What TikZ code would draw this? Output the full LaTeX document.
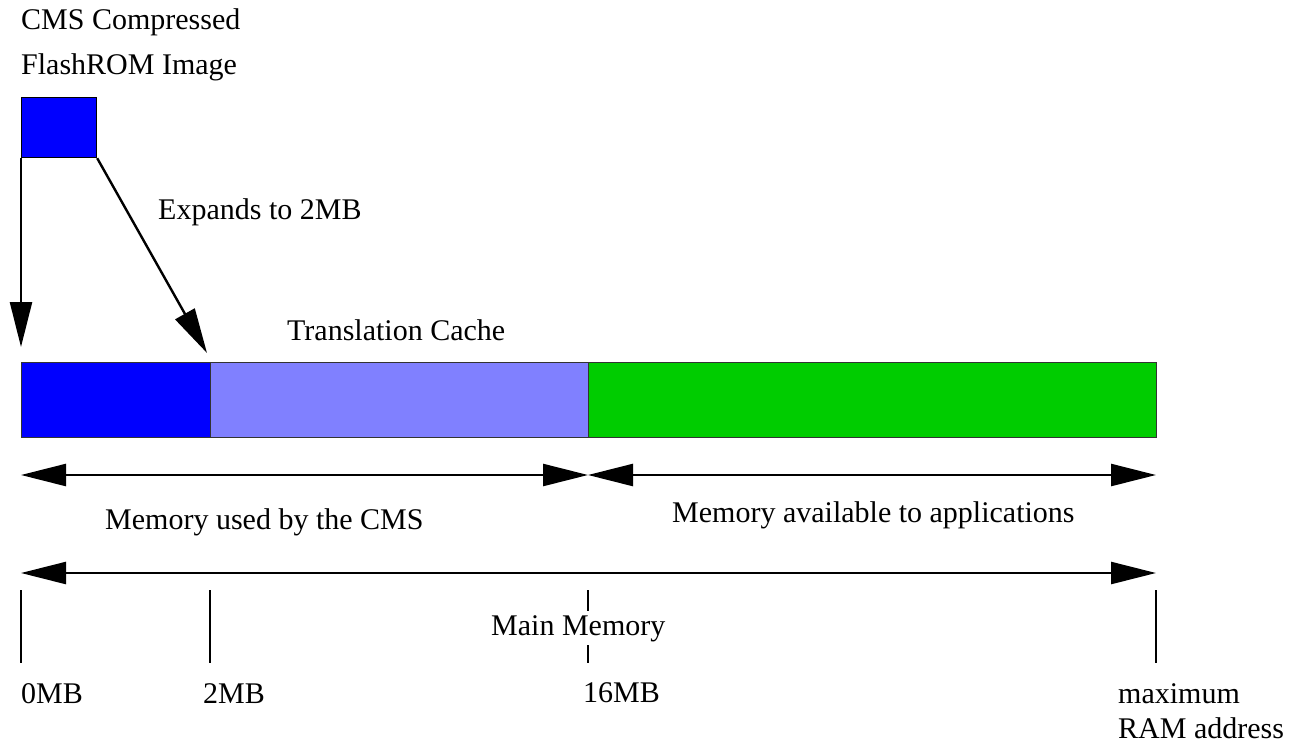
\documentclass[tikz,border=0pt]{standalone}
\usepackage{fontspec}
\setmainfont{Liberation Serif}
\usetikzlibrary{arrows.meta}
\definecolor{romblue}{RGB}{0,0,255}
\definecolor{cacheblue}{RGB}{128,128,255}
\definecolor{appgreen}{RGB}{0,204,0}
\begin{document}
\begin{tikzpicture}[x=1pt,y=-1pt,
  lbl/.style={anchor=base west, inner sep=0pt, font=\fontsize{30}{36}\selectfont},
  seg/.style={draw=black!80, line width=1.2pt, minimum height=75pt, inner sep=0pt, anchor=north west},
  conn/.style={line width=2.4pt, -{Triangle[length=45pt,width=22pt]}},
  span/.style={line width=2.4pt, {Triangle[length=45pt,width=22pt]}-{Triangle[length=45pt,width=22pt]}},
  tick/.style={line width=2pt}]
\useasboundingbox (0,0) rectangle (1289,745);

% compressed image block and its title
\node[lbl] (t1) at (21,29) {CMS Compressed};
\node[lbl] (t2) at (21,74) {FlashROM Image};
\node[seg, fill=romblue, draw=black, minimum width=75pt, minimum height=60pt] (rom) at (21,97) {};

% memory bar
\node[seg, fill=romblue, minimum width=189pt] (cms) at (21,362) {};
\node[seg, fill=cacheblue, minimum width=378pt] (cache) at (210,362) {};
\node[seg, fill=appgreen, minimum width=568pt] (apps) at (588,362) {};

% expansion arrows
\coordinate (tipA) at (21,347);
\coordinate (tipB) at (207,353);
\draw[conn] (rom.south west) -- (tipA);
\draw[conn] (rom.south east) -- (tipB);
\node[lbl] (exp) at (158,219) {Expands to 2MB};
\node[lbl] (tc) at (287,340) {Translation Cache};

% extent arrows
\coordinate (s0) at (21,475);
\coordinate (s1) at (588,475);
\coordinate (s2) at (1156,475);
\draw[span] (s0) -- (s1);
\draw[span] (s1) -- (s2);
\node[lbl] (used) at (105,529) {Memory used by the CMS};
\node[lbl] (avail) at (672,522) {Memory available to applications};

\coordinate (m0) at (21,573);
\coordinate (m1) at (1156,573);
\draw[span] (m0) -- (m1);

% address ticks
\coordinate (k0a) at (21,590);   \coordinate (k0b) at (21,663);
\coordinate (k2a) at (210,590);  \coordinate (k2b) at (210,663);
\coordinate (k16a) at (588,590); \coordinate (k16b) at (588,663);
\coordinate (kMa) at (1156,590); \coordinate (kMb) at (1156,663);
\draw[tick] (k0a) -- (k0b);
\draw[tick] (k2a) -- (k2b);
\draw[tick] (k16a) -- (k16b);
\draw[tick] (kMa) -- (kMb);
\node[lbl, fill=white, inner ysep=4pt] (main) at (491,635) {Main Memory};

\node[lbl] (a0) at (21,703) {0MB};
\node[lbl] (a2) at (203,703) {2MB};
\node[lbl] (a16) at (583,702) {16MB};
\node[lbl] (amax1) at (1118,703) {maximum};
\node[lbl] (amax2) at (1118,738) {RAM address};
\end{tikzpicture}
\end{document}
